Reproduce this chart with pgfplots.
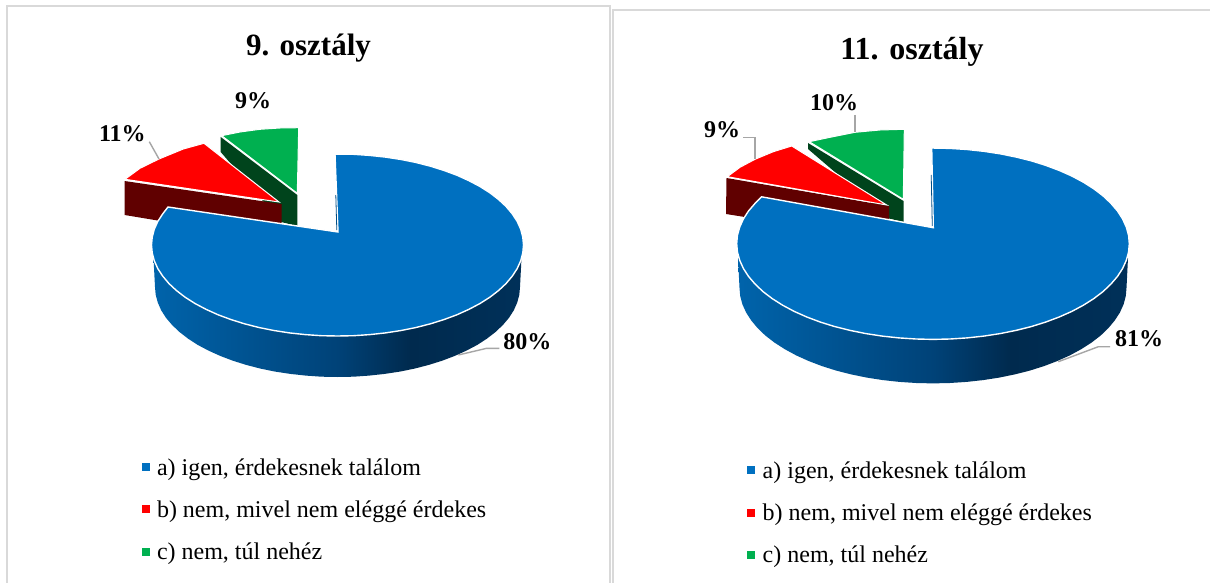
\documentclass[border=0pt]{standalone}
\usepackage{fontspec}
\setmainfont{Liberation Serif}
\usepackage{pgfplots}
\pgfplotsset{compat=1.18}
\definecolor{pblue}{HTML}{0070C0}
\definecolor{pred}{HTML}{FF0000}
\definecolor{pgreen}{HTML}{00B050}
\definecolor{dred}{HTML}{600000}
\definecolor{dgreen}{HTML}{00441C}
\definecolor{frame}{HTML}{D9D9D9}
\definecolor{leader}{HTML}{A6A6A6}
\pgfdeclarehorizontalshading{blueside}{100bp}{
  rgb(0bp)=(0,0.39,0.67);
  rgb(25bp)=(0,0.39,0.67);
  rgb(50bp)=(0,0.26,0.47);
  rgb(60bp)=(0,0.165,0.305);
  rgb(75bp)=(0,0.19,0.35);
  rgb(100bp)=(0,0.19,0.35)}
\newcommand{\ttl}[1]{\fontsize{31}{36}\selectfont\bfseries #1}
\newcommand{\lab}[1]{\fontsize{24}{28}\selectfont\bfseries #1}
\newcommand{\leg}[1]{\fontsize{24}{28}\selectfont #1}
\tikzset{T/.style={inner sep=0pt, outer sep=0pt, text=black}}
\begin{document}
\begin{tikzpicture}
\begin{axis}[
  scale only axis, width=1210pt, height=583pt,
  xmin=0, xmax=1210, ymin=0, ymax=583, y dir=reverse,
  hide axis, clip=true,
]
% background
\addplot[draw=none, fill=white, mark=none] coordinates {(0,0)(1210,0)(1210,583)(0,583)} --cycle;
% panel frames
\addplot[draw=frame, line width=2pt, mark=none] coordinates {(6.5,583)(6.5,6.5)(610,6.5)(610,583)};
\addplot[draw=frame, line width=2pt, mark=none] coordinates {(613,583)(613,10)(1210,10)};

% ---------- left pie ----------
\addplot[draw=none, fill=dgreen, mark=none] coordinates {(220.7,137)(297.3,195)(297.3,226)(281,222)(220.7,152)} --cycle;
\addplot[draw=white, line width=1pt, fill=pgreen, mark=none] coordinates {(221.7,135.7)(240,132)(260,129.3)(280,128)(298.7,127.7)(297.3,193.3)} --cycle;
\addplot[draw=none, fill=dred, mark=none] coordinates {(124.5,181)(281.5,204)(281.5,241)(124.5,215)} --cycle;
\addplot[draw=white, line width=1pt, fill=pred, mark=none] coordinates {(204,143.3)(183.3,149)(159,159)(140,168.3)(125,179.3)(279,202)} --cycle;
\addplot[draw=none, shade, shading=blueside, mark=none] coordinates {(153.5,258)(155,287)(155.7,294.8)(157.8,302.6)(161.2,310.3)(166,317.8)(172.1,325)(179.5,332)(188,338.6)(197.7,344.9)(208.5,350.6)(220.2,355.9)(232.8,360.7)(246.2,364.9)(260.4,368.6)(275.1,371.6)(290.3,373.9)(305.8,375.6)(321.6,376.7)(337.5,377)(353.4,376.7)(369.2,375.6)(384.7,373.9)(399.9,371.6)(414.6,368.6)(428.8,364.9)(442.2,360.7)(454.8,355.9)(466.5,350.6)(477.3,344.9)(487,338.6)(495.5,332)(502.9,325)(509,317.8)(513.8,310.3)(517.2,302.6)(519.3,294.8)(520,287)(521.5,258)} --cycle;
\addplot[draw=white, line width=1.4pt, fill=pblue, mark=none] coordinates {(335,154.1)(353.7,154.3)(369.8,155.4)(385.6,157.1)(401.1,159.5)(416.1,162.5)(430.5,166.2)(444.2,170.5)(457.1,175.3)(469,180.7)(480,186.5)(489.9,192.8)(498.6,199.5)(506.1,206.5)(512.3,213.9)(517.2,221.4)(520.7,229.2)(522.8,237.1)(523.5,245)(522.8,252.9)(520.7,260.8)(517.2,268.6)(512.3,276.1)(506.1,283.5)(498.6,290.5)(489.9,297.2)(480,303.5)(469,309.3)(457.1,314.7)(444.2,319.5)(430.5,323.8)(416.1,327.5)(401.1,330.5)(385.6,332.9)(369.8,334.6)(353.7,335.7)(337.5,336)(321.3,335.7)(305.2,334.6)(289.4,332.9)(273.9,330.5)(258.9,327.5)(244.5,323.8)(230.8,319.5)(217.9,314.7)(206,309.3)(195,303.5)(185.1,297.2)(176.4,290.5)(168.9,283.5)(162.7,276.1)(157.8,268.6)(154.3,260.8)(152.2,252.9)(151.5,245)(152.2,237.1)(154.3,229.2)(157.8,221.4)(162.7,213.9)(168,207)(338,232)} --cycle;
\addplot[draw=pblue!70!black, line width=0.8pt, mark=none] coordinates {(335.8,195)(336.8,230)};
% leaders
\addplot[draw=leader, line width=1.4pt, mark=none] coordinates {(149.3,141.7)(159,159)};
\addplot[draw=leader, line width=1.4pt, mark=none] coordinates {(458.3,355)(486.7,348.3)(499.3,348.3)};
% legend markers
\addplot[only marks, mark=square*, mark size=3.5pt, color=pblue, mark options={draw=none}] coordinates {(146,466.7)};
\addplot[only marks, mark=square*, mark size=3.5pt, color=pred, mark options={draw=none}] coordinates {(146,509)};
\addplot[only marks, mark=square*, mark size=3.5pt, color=pgreen, mark options={draw=none}] coordinates {(146,551.4)};

% ---------- right pie ----------
\addplot[draw=none, fill=dgreen, mark=none] coordinates {(808,143)(903.5,201)(903.5,222)(889,218.5)(808,149)} --cycle;
\addplot[draw=white, line width=1pt, fill=pgreen, mark=none] coordinates {(809.3,141.7)(830,137.3)(855,132.3)(880,130)(904.3,129.3)(903.3,199.3)} --cycle;
\addplot[draw=none, fill=dred, mark=none] coordinates {(726.5,178)(889,206)(889,240)(726,214)} --cycle;
\addplot[draw=white, line width=1pt, fill=pred, mark=none] coordinates {(791.7,146)(773.3,151.7)(755,159.3)(740,167.3)(727.3,176.7)(886.7,205)} --cycle;
\addplot[draw=none, shade, shading=blueside, mark=none] coordinates {(738,258)(739.5,287.7)(740.2,296)(742.4,304.3)(746.1,312.5)(751.2,320.4)(757.6,328.1)(765.4,335.6)(774.5,342.6)(784.8,349.2)(796.2,355.4)(808.6,361)(822,366.1)(836.2,370.6)(851.2,374.4)(866.8,377.6)(882.9,380.1)(899.4,381.9)(916.1,383)(933,383.4)(949.9,383)(966.6,381.9)(983.1,380.1)(999.2,377.6)(1014.8,374.4)(1029.8,370.6)(1044,366.1)(1057.4,361)(1069.8,355.4)(1081.2,349.2)(1091.5,342.6)(1100.6,335.6)(1108.4,328.1)(1114.8,320.4)(1119.9,312.5)(1123.6,304.3)(1125.8,296)(1126.5,287.7)(1128,258)} --cycle;
\addplot[draw=white, line width=1.4pt, fill=pblue, mark=none] coordinates {(931.7,148)(950.1,148.4)(967.1,149.5)(983.8,151.3)(1000.1,153.8)(1016,157)(1031.2,160.8)(1045.6,165.3)(1059.2,170.4)(1071.8,176)(1083.4,182.2)(1093.8,188.8)(1103,195.8)(1110.9,203.3)(1117.5,211)(1122.6,218.9)(1126.3,227.1)(1128.6,235.4)(1129.3,243.7)(1128.6,252)(1126.3,260.3)(1122.6,268.5)(1117.5,276.4)(1110.9,284.1)(1103,291.6)(1093.8,298.6)(1083.4,305.2)(1071.8,311.4)(1059.2,317)(1045.6,322.1)(1031.2,326.6)(1016,330.4)(1000.1,333.6)(983.8,336.1)(967.1,337.9)(950.1,339)(933,339.4)(915.9,339)(898.9,337.9)(882.2,336.1)(865.9,333.6)(850,330.4)(834.8,326.6)(820.4,322.1)(806.8,317)(794.2,311.4)(782.6,305.2)(772.2,298.6)(763,291.6)(755.1,284.1)(748.5,276.4)(743.4,268.5)(739.7,260.3)(737.4,252)(736.7,243.7)(737.4,235.4)(739.7,227.1)(743.4,218.9)(748.5,211)(755.1,203.3)(761.5,196.8)(933.3,227.7)} --cycle;
\addplot[draw=pblue!70!black, line width=0.8pt, mark=none] coordinates {(931.2,175)(932.3,226)};
% leaders
\addplot[draw=leader, line width=1.4pt, mark=none] coordinates {(743.3,137.3)(755,137.3)(755,159.3)};
\addplot[draw=leader, line width=1.4pt, mark=none] coordinates {(855,115)(855,132)};
\addplot[draw=leader, line width=1.4pt, mark=none] coordinates {(1058.3,361.7)(1098.3,346.7)(1110,346.7)};
% legend markers
\addplot[only marks, mark=square*, mark size=3.5pt, color=pblue, mark options={draw=none}] coordinates {(751,470)};
\addplot[only marks, mark=square*, mark size=3.5pt, color=pred, mark options={draw=none}] coordinates {(751,512.3)};
\addplot[only marks, mark=square*, mark size=3.5pt, color=pgreen, mark options={draw=none}] coordinates {(751,554.3)};

% ---------- texts ----------
\node[T, anchor=base] at (axis cs:308.5,56) {\ttl{9. osztály}};
\node[T, anchor=base] at (axis cs:912,60) {\fontsize{32}{36}\selectfont\bfseries 11. osztály};
\node[T, anchor=base west] at (axis cs:99,141.7) {\lab{11\%}};
\node[T, anchor=base west] at (axis cs:235,109) {\lab{9\%}};
\node[T, anchor=base west] at (axis cs:503.3,349.3) {\lab{80\%}};
\node[T, anchor=base west] at (axis cs:704,137.3) {\lab{9\%}};
\node[T, anchor=base west] at (axis cs:810,110.7) {\lab{10\%}};
\node[T, anchor=base west] at (axis cs:1115,346.7) {\lab{81\%}};
\node[T, anchor=base west] at (axis cs:157,475) {\leg{a) igen, érdekesnek találom}};
\node[T, anchor=base west] at (axis cs:157,517.3) {\leg{b) nem, mivel nem eléggé érdekes}};
\node[T, anchor=base west] at (axis cs:157,559.3) {\leg{c) nem, túl nehéz}};
\node[T, anchor=base west] at (axis cs:762.7,478.3) {\leg{a) igen, érdekesnek találom}};
\node[T, anchor=base west] at (axis cs:762.7,520) {\leg{b) nem, mivel nem eléggé érdekes}};
\node[T, anchor=base west] at (axis cs:762.7,562.7) {\leg{c) nem, túl nehéz}};
\end{axis}
\end{tikzpicture}
\end{document}
